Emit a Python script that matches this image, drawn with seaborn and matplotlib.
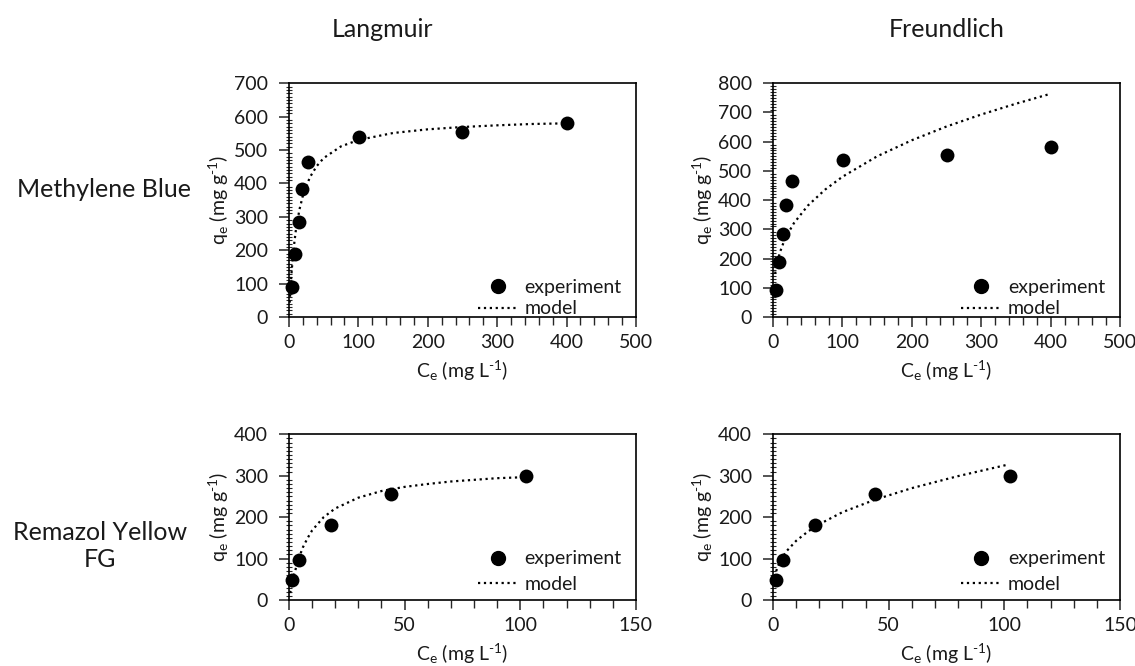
import matplotlib
matplotlib.use("Agg")
import matplotlib.pyplot as plt
from matplotlib.ticker import MultipleLocator
from matplotlib.lines import Line2D
import seaborn as sns

sns.set_style("white")
plt.rcParams["font.family"] = ["Lato", "DejaVu Sans"]
plt.rcParams["mathtext.default"] = "regular"

# Methylene Blue data
mb_ce = [4, 9, 14, 19, 27, 101, 250, 400]
mb_qe = [91, 188, 284, 383, 464, 539, 554, 582]
mb_lang_ce = [1, 2, 4, 6, 8, 10, 15, 20, 30, 40, 50, 75, 100, 150, 200, 250, 300, 350, 400]
mb_lang_qe = [43, 80, 141, 189, 228, 261, 321, 363, 418, 452, 476, 511, 530, 551, 562, 569, 574, 578, 580]
mb_freu_ce = [3, 4, 6, 10, 15, 20, 30, 50, 75, 100, 150, 200, 250, 300, 350, 400]
mb_freu_qe = [148, 163, 187, 222, 254, 280, 321, 381, 436, 480, 550, 605, 652, 693, 730, 764]

# Remazol Yellow FG data
ry_ce = [1.3, 4.3, 18.1, 44.1, 102.6]
ry_qe = [48, 96, 181, 255, 299]
ry_lang_ce = [0.5, 1, 2, 4, 6, 8, 10, 15, 20, 30, 40, 50, 60, 70, 80, 90, 100]
ry_lang_qe = [17, 31, 57, 97, 127, 149, 168, 200, 221, 247, 263, 273, 280, 286, 290, 294, 296]
ry_freu_ce = [0.7, 1, 2, 4, 6, 10, 15, 20, 30, 44, 60, 80, 101]
ry_freu_qe = [56, 63, 81, 103, 119, 143, 165, 183, 212, 242, 270, 299, 326]

col_titles = ["Langmuir", "Freundlich"]
row_titles = ["Methylene Blue", "Remazol Yellow\nFG"]

TXT = "#1a1a1a"
HY = "\u2010"  # hyphen-like minus as in the original labels

fig = plt.figure(figsize=(11.35, 6.66), dpi=100)

panels = [
    # rect, exp x, exp y, model x, model y, xmax, ymax, xmajor, xminor, legend anchor, spacing
    ([0.2546, 0.524, 0.3057, 0.351], mb_ce, mb_qe, mb_lang_ce, mb_lang_qe, 500, 700, 100, 20, (0.965, -0.01), 0.25),
    ([0.6811, 0.524, 0.3057, 0.351], mb_ce, mb_qe, mb_freu_ce, mb_freu_qe, 500, 800, 100, 20, (0.962, -0.01), 0.25),
    ([0.2546, 0.099, 0.3057, 0.249], ry_ce, ry_qe, ry_lang_ce, ry_lang_qe, 150, 400, 50, 10, (0.965, 0.03), 0.45),
    ([0.6811, 0.099, 0.3057, 0.249], ry_ce, ry_qe, ry_freu_ce, ry_freu_qe, 150, 400, 50, 10, (0.962, 0.03), 0.45),
]

for rect, ex, ey, mx, my, xmax, ymax, xmaj, xmin, anchor, spacing in panels:
    ax = fig.add_axes(rect)
    sns.lineplot(x=mx, y=my, ax=ax, color="black", linestyle=":", linewidth=1.6,
                 estimator=None, sort=False)
    sns.scatterplot(x=ex, y=ey, ax=ax, color="black", s=100, edgecolor="black",
                    linewidth=0, zorder=3, clip_on=False)
    ax.set_xlim(0, xmax)
    ax.set_ylim(0, ymax)
    ax.xaxis.set_major_locator(MultipleLocator(xmaj))
    ax.xaxis.set_minor_locator(MultipleLocator(xmin))
    ax.yaxis.set_major_locator(MultipleLocator(100))
    ax.yaxis.set_minor_locator(MultipleLocator(10))
    ax.tick_params(axis="x", which="major", direction="out", length=7, width=1.1,
                   bottom=True, labelsize=14, labelcolor=TXT, pad=5)
    ax.tick_params(axis="x", which="minor", direction="out", length=6, width=1.0, bottom=True)
    ax.tick_params(axis="y", which="major", direction="out", length=7, width=1.1,
                   left=True, labelsize=14, labelcolor=TXT, pad=8)
    ax.tick_params(axis="y", which="minor", direction="inout", length=5, width=0.8, left=True)
    for sp in ax.spines.values():
        sp.set_visible(True)
        sp.set_color("black")
        sp.set_linewidth(1.2)
    ax.set_xlabel("C$_e$ (mg L$^{" + HY + "1}$)", fontsize=14, color=TXT, labelpad=6)
    ax.set_ylabel("q$_e$ (mg g$^{" + HY + "1}$)", fontsize=14, color=TXT, labelpad=2)
    handles = [
        Line2D([], [], marker="o", color="black", linestyle="none", markersize=10),
        Line2D([], [], color="black", linestyle=":", linewidth=1.6),
    ]
    ax.legend(handles, ["experiment", "model"], loc="lower right", bbox_to_anchor=anchor,
              frameon=False, fontsize=14, handlelength=2.0, handletextpad=0.4,
              labelspacing=spacing, borderaxespad=0.0, borderpad=0.1, labelcolor=TXT)

fig.text(0.337, 0.955, col_titles[0], fontsize=18, ha="center", va="center", color=TXT)
fig.text(0.834, 0.955, col_titles[1], fontsize=18, ha="center", va="center", color=TXT)
fig.text(0.092, 0.715, row_titles[0], fontsize=18, ha="center", va="center", color=TXT)
fig.text(0.088, 0.180, row_titles[1], fontsize=18, ha="center", va="center", color=TXT,
         linespacing=1.25)

plt.savefig("out.png", dpi=100)
